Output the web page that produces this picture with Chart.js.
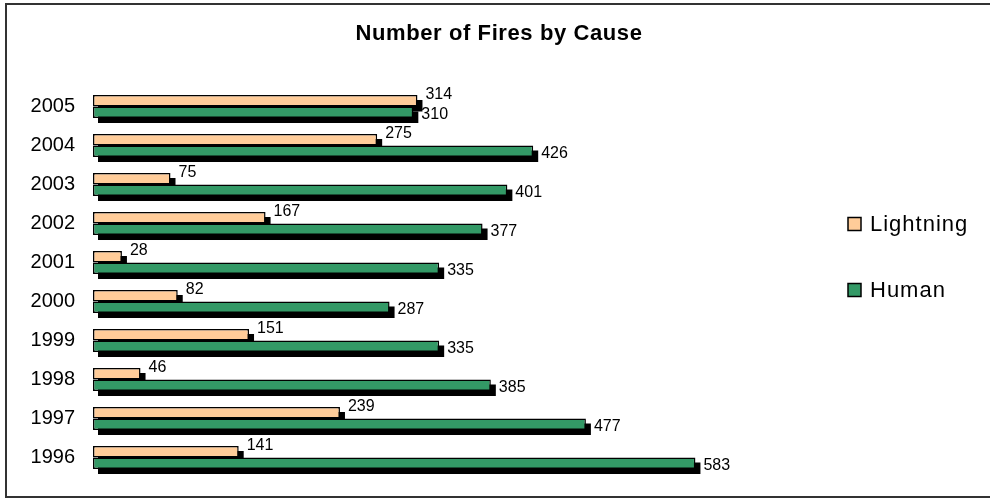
<!DOCTYPE html>
<html>
<head>
<meta charset="utf-8">
<script src="https://cdn.jsdelivr.net/npm/chart.js@4"></script>
<style>
  html, body { margin: 0; padding: 0; background: #fff; }
  #wrap { width: 990px; height: 499px; position: relative; }
</style>
</head>
<body>
<div id="wrap"><canvas id="firesChart"></canvas></div>
<script>
const years = ["2005", "2004", "2003", "2002", "2001", "2000", "1999", "1998", "1997", "1996"];
const lightning = [314, 275, 75, 167, 28, 82, 151, 46, 239, 141];
const human = [310, 426, 401, 377, 335, 287, 335, 385, 477, 583];
const titleText = "Number of Fires by Cause";

document.addEventListener("DOMContentLoaded", () => {
  const FONT = "'Liberation Sans', Arial, sans-serif";

  // black drop shadows behind every bar
  const shadowPlugin = {
    id: "shadows",
    beforeDatasetsDraw(chart) {
      const ctx = chart.ctx;
      ctx.save();
      ctx.fillStyle = "#000";
      chart.data.datasets.forEach((ds, i) => {
        chart.getDatasetMeta(i).data.forEach((bar) => {
          const h = bar.height;
          ctx.fillRect(bar.base + 5, bar.y - h / 2 + 5, bar.x - bar.base, h);
        });
      });
      ctx.restore();
    },
  };

  // value labels, title, legend, frame
  const decorPlugin = {
    id: "decor",
    afterDatasetsDraw(chart) {
      const ctx = chart.ctx;
      ctx.save();
      ctx.font = "16px " + FONT;
      ctx.fillStyle = "#000";
      ctx.textAlign = "left";
      ctx.textBaseline = "middle";
      chart.data.datasets.forEach((ds, i) => {
        chart.getDatasetMeta(i).data.forEach((bar, j) => {
          const dy = i === 0 ? -6 : 2;
          ctx.fillText(String(ds.data[j]), bar.x + 8, bar.y + dy);
        });
      });

      ctx.font = "bold 22px " + FONT;
      ctx.letterSpacing = "0.6px";
      ctx.textAlign = "center";
      ctx.fillText(titleText, 499, 34);

      const legendY = [224, 290];
      ctx.font = "22px " + FONT;
      ctx.letterSpacing = "1px";
      ctx.textAlign = "left";
      chart.data.datasets.forEach((ds, i) => {
        const y = legendY[i];
        ctx.fillStyle = ds.backgroundColor;
        ctx.fillRect(848, y - 6.5, 13, 13);
        ctx.strokeStyle = "#000";
        ctx.lineWidth = 1.5;
        ctx.strokeRect(848, y - 6.5, 13, 13);
        ctx.fillStyle = "#000";
        ctx.fillText(ds.label, 870, y + 1);
      });
      ctx.letterSpacing = "0px";

      ctx.strokeStyle = "#333";
      ctx.lineWidth = 2;
      ctx.strokeRect(6, 4, 1000, 493);
      ctx.restore();
    },
  };

  const firesChart = document.getElementById("firesChart").getContext("2d");
  new Chart(firesChart, {
    type: "bar",
    data: {
      labels: years,
      datasets: [
        {
          label: "Lightning",
          data: lightning,
          backgroundColor: "#FFCC99",
          borderColor: "#000",
          borderWidth: 1.5,
          borderSkipped: false,
          categoryPercentage: 0.59,
          barPercentage: 1.0,
        },
        {
          label: "Human",
          data: human,
          backgroundColor: "#339966",
          borderColor: "#000",
          borderWidth: 1.5,
          borderSkipped: false,
          categoryPercentage: 0.59,
          barPercentage: 1.0,
        },
      ],
    },
    options: {
      indexAxis: "y",
      responsive: true,
      maintainAspectRatio: false,
      animation: false,
      layout: { padding: { top: 87, bottom: 22, left: 0, right: 277 } },
      plugins: {
        legend: { display: false },
        title: { display: false },
        tooltip: { enabled: false },
      },
      scales: {
        x: {
          min: 0,
          max: 600,
          display: false,
          grid: { display: false },
        },
        y: {
          grid: { display: false, drawTicks: false },
          border: { display: false },
          ticks: {
            color: "#000",
            padding: 18,
            font: { family: FONT, size: 20 },
          },
          afterFit(scale) {
            scale.width = 93;
            scale.paddingTop = 0;
            scale.paddingBottom = 0;
          },
        },
      },
    },
    plugins: [shadowPlugin, decorPlugin],
  });
});
</script>
</body>
</html>
